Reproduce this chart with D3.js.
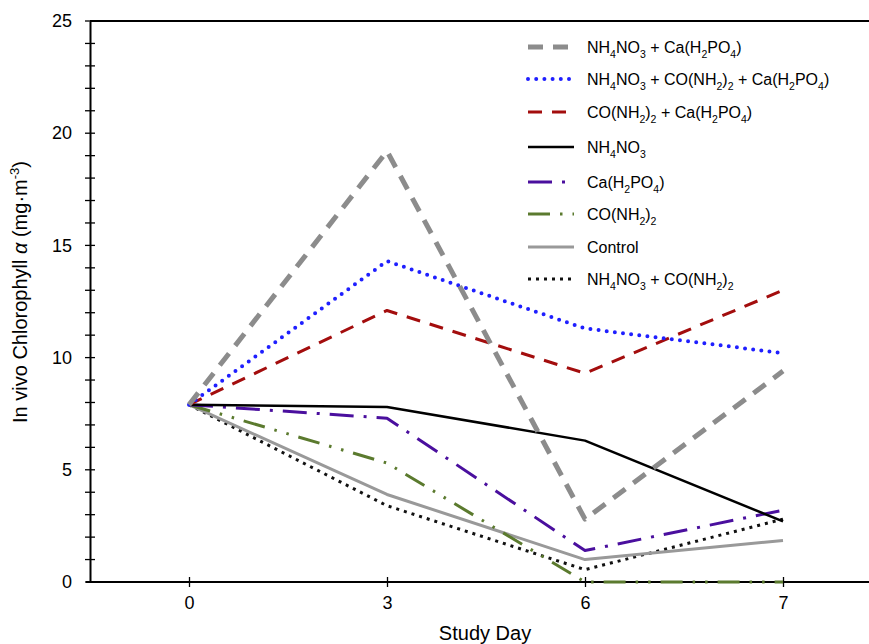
<!DOCTYPE html>
<html>
<head>
<meta charset="utf-8">
<script src="https://cdn.jsdelivr.net/npm/d3@7"></script>
<style>
  body { margin: 0; background: #fff; }
  svg { font-family: "Liberation Sans", Arial, sans-serif; }
</style>
</head>
<body>
<div id="chart"></div>
<script>
// study days and tick labels
const days = ["0", "3", "6", "7"];
const yTicks = [0, 5, 10, 15, 20, 25];

// series values, one per day
const nh4no3Ca = [7.9, 19.2, 2.8, 9.4];
const nh4no3UreaCa = [7.9, 14.3, 11.3, 10.2];
const ureaCa = [7.9, 12.1, 9.3, 13.0];
const nh4no3 = [7.9, 7.8, 6.3, 2.7];
const caOnly = [7.9, 7.3, 1.4, 3.2];
const ureaOnly = [7.9, 5.3, 0.0, 0.0];
const control = [7.9, 3.9, 1.0, 1.85];
const nh4no3Urea = [7.9, 3.4, 0.55, 2.8];

// legend labels ("_x" = subscript)
const labels = [
  "NH_4NO_3 + Ca(H_2PO_4)",
  "NH_4NO_3 + CO(NH_2)_2 + Ca(H_2PO_4)",
  "CO(NH_2)_2 + Ca(H_2PO_4)",
  "NH_4NO_3",
  "Ca(H_2PO_4)",
  "CO(NH_2)_2",
  "Control",
  "NH_4NO_3 + CO(NH_2)_2"
];

const seriesValues = [nh4no3Ca, nh4no3UreaCa, ureaCa, nh4no3, caOnly, ureaOnly, control, nh4no3Urea];

// line styles, in legend order
const styles = [
  { color: "#8c8c8c", width: 5, dash: "15,10", cap: "butt" },
  { color: "#1f1fff", width: 4, dash: "0,8.2", cap: "round" },
  { color: "#a30d0d", width: 3, dash: "14,10", cap: "butt" },
  { color: "#000000", width: 2.5, dash: null, cap: "butt" },
  { color: "#4a0f9e", width: 3, dash: "24,10,3,10", cap: "butt" },
  { color: "#5b7a2e", width: 3, dash: "22,10,2.5,10,2.5,10", cap: "butt" },
  { color: "#999999", width: 3, dash: null, cap: "butt" },
  { color: "#111111", width: 3, dash: "3,5", cap: "butt" }
];

const svgWidth = 869, svgHeight = 644;
const plotLeft = 90, plotTop = 21, plotBottom = 582, plotRight = 882;

const svg = d3.select("#chart").append("svg")
  .attr("width", svgWidth)
  .attr("height", svgHeight);

const x = d3.scalePoint().domain(days).range([plotLeft, plotRight]).padding(0.5);
const y = d3.scaleLinear().domain([0, 25]).range([plotBottom, plotTop]);

// frame: top line
svg.append("line")
  .attr("x1", plotLeft).attr("x2", svgWidth)
  .attr("y1", plotTop).attr("y2", plotTop)
  .attr("stroke", "#000").attr("stroke-width", 2);

// y axis, minor ticks every 1
const yMinor = svg.append("g").attr("transform", `translate(${plotLeft},0)`);
yMinor.selectAll("line")
  .data(d3.range(0, 26))
  .enter().append("line")
  .attr("x1", -5).attr("x2", 5)
  .attr("y1", d => y(d)).attr("y2", d => y(d))
  .attr("stroke", "#000").attr("stroke-width", 1.3);

const yAxis = svg.append("g")
  .attr("transform", `translate(${plotLeft},0)`)
  .call(d3.axisLeft(y).tickValues(yTicks).tickSize(0).tickPadding(18));
yAxis.select(".domain").attr("stroke-width", 2);
yAxis.selectAll("text").attr("font-size", 18).attr("fill", "#000")
  .attr("font-family", "Liberation Sans, Arial, sans-serif");

// x axis
const xAxis = svg.append("g")
  .attr("transform", `translate(0,${plotBottom})`)
  .call(d3.axisBottom(x).tickSize(0).tickPadding(14));
xAxis.select(".domain").attr("d", `M${plotLeft - 4},0H${svgWidth}`).attr("stroke-width", 2);
xAxis.selectAll("text").attr("font-size", 18).attr("fill", "#000")
  .attr("font-family", "Liberation Sans, Arial, sans-serif");
xAxis.selectAll(".tick").append("line")
  .attr("y1", -5).attr("y2", 5)
  .attr("stroke", "#000").attr("stroke-width", 1.3);

// axis titles
svg.append("text")
  .attr("x", 485)
  .attr("y", 640)
  .attr("text-anchor", "middle")
  .attr("font-size", 20)
  .text("Study Day");

const yTitle = svg.append("text")
  .attr("transform", "translate(27,292) rotate(-90)")
  .attr("text-anchor", "middle")
  .attr("font-size", 20);
yTitle.append("tspan").text("In vivo Chlorophyll ");
yTitle.append("tspan").attr("font-style", "italic").text("α");
yTitle.append("tspan").text(" (mg·m");
yTitle.append("tspan").attr("font-size", 13).attr("dy", -8).text("-3");
yTitle.append("tspan").attr("dy", 8).text(")");

// lines
const line = d3.line()
  .x((d, i) => x(days[i]))
  .y(d => y(d));

const series = seriesValues.map((values, i) => ({ values, style: styles[i] }));

// draw in reverse so the legend-first series sit on top
svg.append("g").selectAll("path")
  .data(series.slice().reverse())
  .enter().append("path")
  .attr("d", d => line(d.values))
  .attr("fill", "none")
  .attr("stroke", d => d.style.color)
  .attr("stroke-width", d => d.style.width)
  .attr("stroke-dasharray", d => d.style.dash)
  .attr("stroke-linecap", d => d.style.cap)
  .attr("stroke-linejoin", "round");

// legend
const legendY = [47, 79, 112, 147, 182, 214, 247, 279];
const legend = svg.append("g");
series.forEach((s, i) => {
  const row = legend.append("g").attr("transform", `translate(528,${legendY[i]})`);
  row.append("line")
    .attr("x1", 0).attr("x2", 46)
    .attr("y1", 0).attr("y2", 0)
    .attr("stroke", s.style.color)
    .attr("stroke-width", s.style.width)
    .attr("stroke-dasharray", s.style.dash)
    .attr("stroke-linecap", s.style.cap);
  const t = row.append("text")
    .attr("x", 59).attr("y", 6)
    .attr("font-size", 16);
  // split label into normal text and subscripts
  const parts = labels[i].split(/_(\d)/);
  let shift = 0;
  parts.forEach((p, k) => {
    if (p === "") return;
    if (k % 2 === 1) {
      t.append("tspan").attr("font-size", 10.5).attr("dy", 5 - shift).text(p);
      shift = 5;
    } else {
      t.append("tspan").attr("dy", -shift).text(p);
      shift = 0;
    }
  });
});
</script>
</body>
</html>
